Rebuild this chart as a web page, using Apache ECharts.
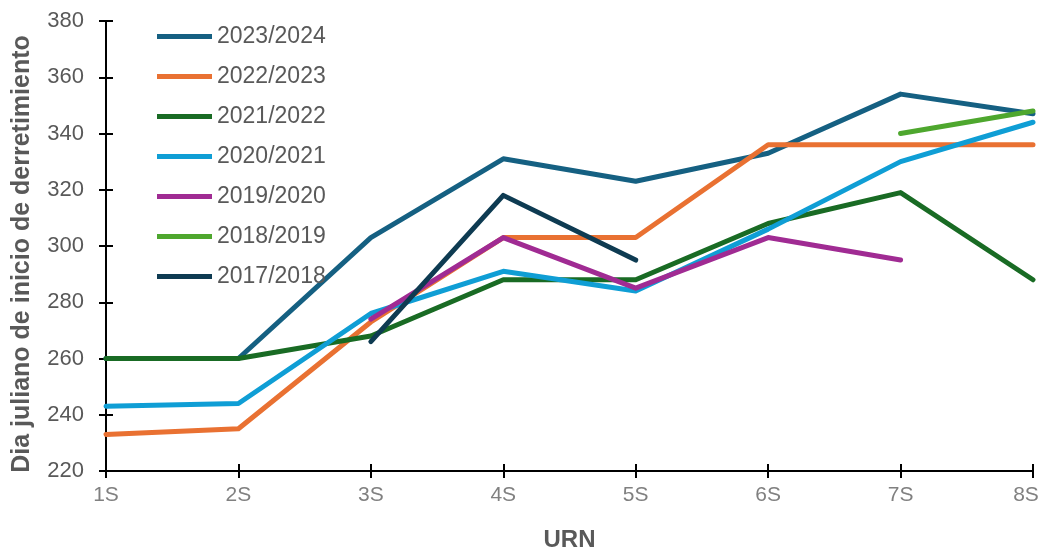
<!DOCTYPE html>
<html><head><meta charset="utf-8">
<script src="https://cdn.jsdelivr.net/npm/echarts@6/dist/echarts.min.js"></script>
<style>html,body{margin:0;padding:0;background:#fff}#c{width:1041px;height:550px}</style>
</head><body><div id="c"></div>
<script>
const categories = ['1S','2S','3S','4S','5S','6S','7S','8S'];
const yTicks = [220,240,260,280,300,320,340,360,380];
const seriesNames = ['2023/2024','2022/2023','2021/2022','2020/2021','2019/2020','2018/2019','2017/2018'];
const s2023 = [260,260,303,331,323,333,354,347];
const s2022 = [233,235,273,303,303,336,336,336];
const s2021 = [260,260,268,288,288,308,319,288];
const s2020 = [243,244,276,291,284,306,330,344];
const s2019 = [null,null,274,303,285,303,295,null];
const s2018 = [null,null,null,null,null,null,340,348];
const s2017 = [null,null,266,318,295,null,null,null];
const colors = ['#156082','#E97132','#196B24','#0F9ED5','#A02B93','#4EA72E','#0E3B52'];
const values = [s2023,s2022,s2021,s2020,s2019,s2018,s2017];

const chart = echarts.init(document.getElementById('c'));
const font = 'Liberation Sans, Arial, sans-serif';
const axisLineStyle = {color:'#000',width:2};
const lastCat = categories[categories.length-1];
chart.setOption({
  animation:false,
  color: colors,
  textStyle:{fontFamily:font},
  grid:{left:106,right:8,top:21,bottom:79,containLabel:false,outerBoundsMode:'none'},
  legend:{
    orient:'vertical', left:152, top:20, itemGap:17, itemWidth:55, itemHeight:5,
    icon:'path://M0,0 L55,0 L55,5 L0,5 Z',
    textStyle:{color:'#595959',fontSize:23,lineHeight:23,fontFamily:font},
    data: seriesNames
  },
  xAxis:[{
    type:'category', data:categories, boundaryGap:false,
    name:'URN', nameLocation:'middle', nameGap:57,
    nameTextStyle:{color:'#595959',fontSize:24,fontWeight:'bold',fontFamily:font},
    axisLine:{lineStyle:axisLineStyle},
    axisTick:{show:true,length:7,lineStyle:axisLineStyle,alignWithLabel:true},
    axisLabel:{color:'#808080',fontSize:21,margin:14,fontFamily:font,
      formatter:v=>v===lastCat?'{last|'+v+'}':v,
      rich:{last:{color:'#808080',fontSize:21,fontFamily:font,padding:[0,14,0,0]}}}
  },{
    type:'category', data:categories, boundaryGap:false, position:'bottom',
    axisLine:{show:false},
    axisTick:{show:true,inside:true,length:7,lineStyle:axisLineStyle,alignWithLabel:true},
    axisLabel:{show:false}
  }],
  yAxis:[{
    type:'value', min:220, max:380, interval:20,
    name:'Dia juliano de inicio de derretimiento', nameLocation:'middle', nameGap:71, nameRotate:90,
    nameTextStyle:{color:'#595959',fontSize:25,fontWeight:'bold',fontFamily:font,padding:[0,16,0,0]},
    axisLine:{show:true,lineStyle:axisLineStyle},
    axisTick:{show:true,length:7,lineStyle:axisLineStyle},
    splitLine:{show:false},
    axisLabel:{color:'#595959',fontSize:22,margin:22,fontFamily:font,
      formatter:v=>yTicks.includes(v)?String(v):''}
  },{
    type:'value', min:220, max:380, interval:20, position:'left',
    axisLine:{show:false},
    axisTick:{show:true,inside:true,length:7,lineStyle:axisLineStyle},
    splitLine:{show:false},
    axisLabel:{show:false}
  }],
  series: seriesNames.map((n,i)=>({
    name:n, type:'line', data:values[i], showSymbol:false, symbol:'none',
    connectNulls:false,
    lineStyle:{width:5,color:colors[i],cap:'round',join:'round'},
    itemStyle:{color:colors[i]}
  }))
});
</script></body></html>
